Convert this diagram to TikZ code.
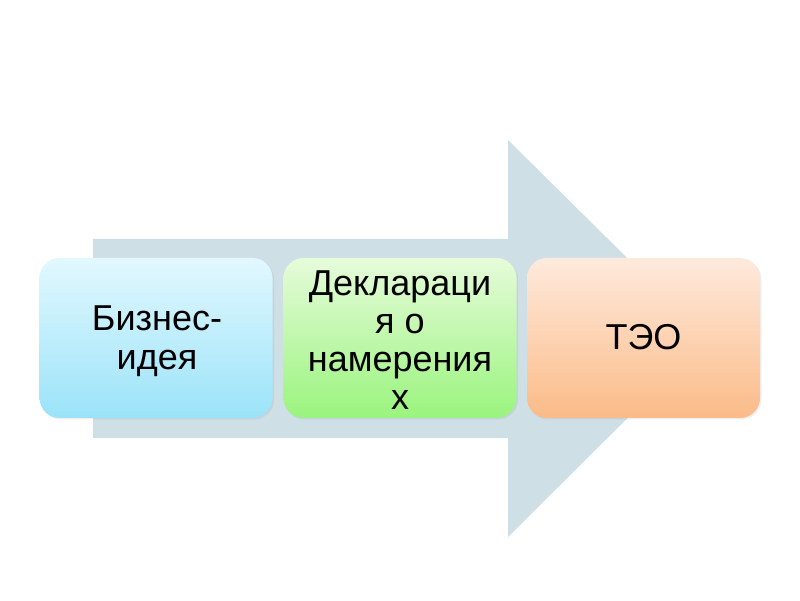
\documentclass[tikz,border=0pt]{standalone}
\usepackage{fontspec}
\setmainfont{Liberation Sans}
\usetikzlibrary{shadows}
\definecolor{arrowc}{HTML}{CEDFE6}
\definecolor{bluetop}{HTML}{E2F8FE}
\definecolor{bluebot}{HTML}{9BE3F9}
\definecolor{greentop}{HTML}{E6FBDA}
\definecolor{greenbot}{HTML}{9AF47E}
\definecolor{orangetop}{HTML}{FEEADD}
\definecolor{orangebot}{HTML}{FBBB88}
\tikzset{
  stage/.style={rounded corners=20pt, minimum width=233pt, minimum height=160pt,
    inner sep=0pt, draw=none,
    drop shadow={opacity=0.12, shadow xshift=1.5pt, shadow yshift=-1.5pt}},
  label36/.style={font=\fontsize{36}{39}\selectfont, align=center, text=black, inner sep=0pt}
}
\begin{document}
\begin{tikzpicture}[x=1pt,y=1pt]
\useasboundingbox (0,0) rectangle (800,600);
\fill[white] (0,0) rectangle (800,600);
% big arrow
\fill[arrowc] (93,361) -- (508,361) -- (508,460) -- (708,262) -- (508,63) -- (508,162) -- (93,162) -- cycle;
% boxes
\node[stage, top color=bluetop, bottom color=bluebot] (b1) at (156,262) {};
\node[stage, top color=greentop, bottom color=greenbot] (b2) at (400,262) {};
\node[stage, top color=orangetop, bottom color=orangebot] (b3) at (643.5,262) {};
% texts
\node[label36, anchor=base] (t1) at (157,230) {Бизнес-\\идея};
\node[label36, anchor=base, font=\fontsize{36}{38}\selectfont] (t2) at (400,190) {Деклараци\\я о\\намерения\\х};
\node[label36, anchor=base] (t3) at (643.5,250) {ТЭО};
\end{tikzpicture}
\end{document}
